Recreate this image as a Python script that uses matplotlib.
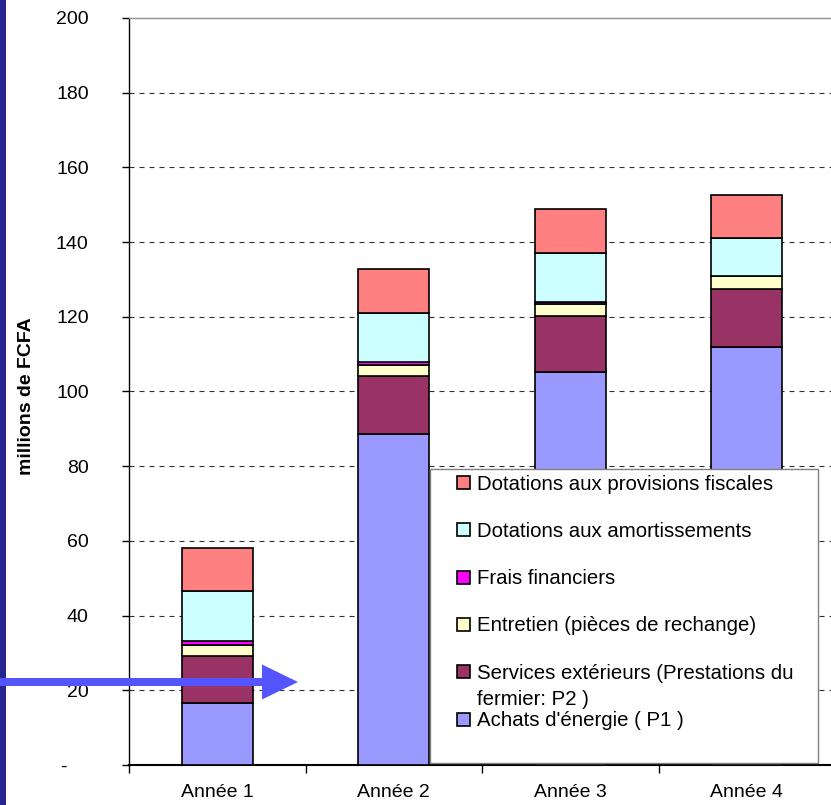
# -*- coding: utf-8 -*-
'''
Stacked bar chart of operating costs per year (millions de FCFA)
'''

import numpy as np
import matplotlib
matplotlib.use('Agg')
import matplotlib.pyplot as plt
from matplotlib.patches import Rectangle, FancyArrow

# =============================================================================
# Data
# =============================================================================
annees = ['Année 1', 'Année 2', 'Année 3', 'Année 4']

# stacked from bottom to top
achats_energie = [16.5, 88.5, 105.2, 111.9]
services_ext = [12.8, 15.7, 15.0, 15.6]
entretien = [2.7, 3.0, 3.2, 3.4]
frais_financiers = [1.1, 0.7, 0.6, 0.1]
dot_amortissements = [13.4, 13.2, 13.2, 10.0]
dot_provisions = [11.6, 11.6, 11.6, 11.6]

series_labels = ["Achats d'énergie ( P1 )",
                 'Services extérieurs (Prestations du\nfermier: P2 )',
                 'Entretien (pièces de rechange)',
                 'Frais financiers',
                 'Dotations aux amortissements',
                 'Dotations aux provisions fiscales']
series_colors = ['#9999FF', '#993366', '#FFFFCC',
                 '#FF00FF', '#CCFFFF', '#FF8080']

y_ticks = [0, 20, 40, 60, 80, 100, 120, 140, 160, 180, 200]
y_ticklabels = ['-    ', '20', '40', '60', '80', '100',
                '120', '140', '160', '180', '200']

# =============================================================================
# Plot
# =============================================================================
plt.rcParams['font.family'] = ['Liberation Sans', 'DejaVu Sans']

W, H = 831, 805
fig = plt.figure(figsize=(W / 100., H / 100.), dpi=100)
fig.patch.set_facecolor('white')

ax = fig.add_axes([129. / W, 40. / H, (835. - 129.) / W, (765. - 18.) / H])

series = [achats_energie, services_ext, entretien,
          frais_financiers, dot_amortissements, dot_provisions]
x = np.arange(1, len(annees) + 1)
bottom = np.zeros(len(annees))
for vals, col in zip(series, series_colors):
    ax.bar(x, vals, width=0.4, bottom=bottom, color=col,
           edgecolor='black', linewidth=1.2, zorder=3)
    bottom += np.array(vals)

ax.set_xlim(0.5, 4.5)
ax.set_ylim(0, 200)

# y axis
ax.set_yticks(y_ticks)
ax.set_yticklabels(y_ticklabels)
ax.tick_params(axis='y', direction='out', length=5, width=1,
               pad=24, labelsize=14)
for yv in y_ticks[1:-1]:
    ax.axhline(yv, color='#303030', linewidth=0.8,
               dashes=(4.5, 4.5), zorder=1)

# x axis, ticks between categories
ax.set_xticks(x)
ax.set_xticklabels(annees)
ax.set_xticks(np.arange(0.5, 4.6, 1.0), minor=True)
ax.tick_params(axis='x', which='major', length=0, pad=14, labelsize=14)
ax.tick_params(axis='x', which='minor', direction='out', length=6, width=1)

ax.spines['top'].set_color('#909090')
ax.spines['top'].set_linewidth(1.0)
ax.spines['right'].set_visible(False)
ax.spines['left'].set_linewidth(1.0)
ax.spines['bottom'].set_linewidth(1.5)

fig.text(27. / W, 1 - 396. / H, 'millions de FCFA', rotation=90,
         ha='center', va='center', fontsize=14, fontweight='bold')

# =============================================================================
# Legend (drawn by hand, top entry = top of stack)
# =============================================================================
leg_box = Rectangle((430. / W, 1 - 763. / H), (818. - 430.) / W,
                    (763. - 469.) / H, transform=fig.transFigure,
                    facecolor='white', edgecolor='#808080',
                    linewidth=1.0, zorder=10)
fig.patches.append(leg_box)

row0, row_step, line_step = 482.5, 47.3, 26.
for i, (lab, col) in enumerate(zip(series_labels[::-1],
                                   series_colors[::-1])):
    yc = row0 + i * row_step
    fig.patches.append(Rectangle((457. / W, 1 - (yc + 6.5) / H),
                                 13. / W, 13. / H,
                                 transform=fig.transFigure,
                                 facecolor=col, edgecolor='black',
                                 linewidth=1.2, zorder=11))
    for j, line in enumerate(lab.split('\n')):
        fig.text(477. / W, 1 - (yc + 7. + j * line_step) / H, line,
                 ha='left', va='baseline', fontsize=14.7, zorder=12)

# =============================================================================
# Decorations: left border stripe and arrow
# =============================================================================
fig.patches.append(Rectangle((0, 0), 6. / W, 1, transform=fig.transFigure,
                             facecolor='#26268f', edgecolor='none',
                             zorder=13))
arrow = FancyArrow(0, 1 - 682. / H, 298. / W, 0, width=8. / H,
                   head_width=35. / H, head_length=36. / W,
                   length_includes_head=True, transform=fig.transFigure,
                   facecolor='#5555FF', edgecolor='none', zorder=14)
fig.patches.append(arrow)

fig.savefig('out.png', dpi=100)
